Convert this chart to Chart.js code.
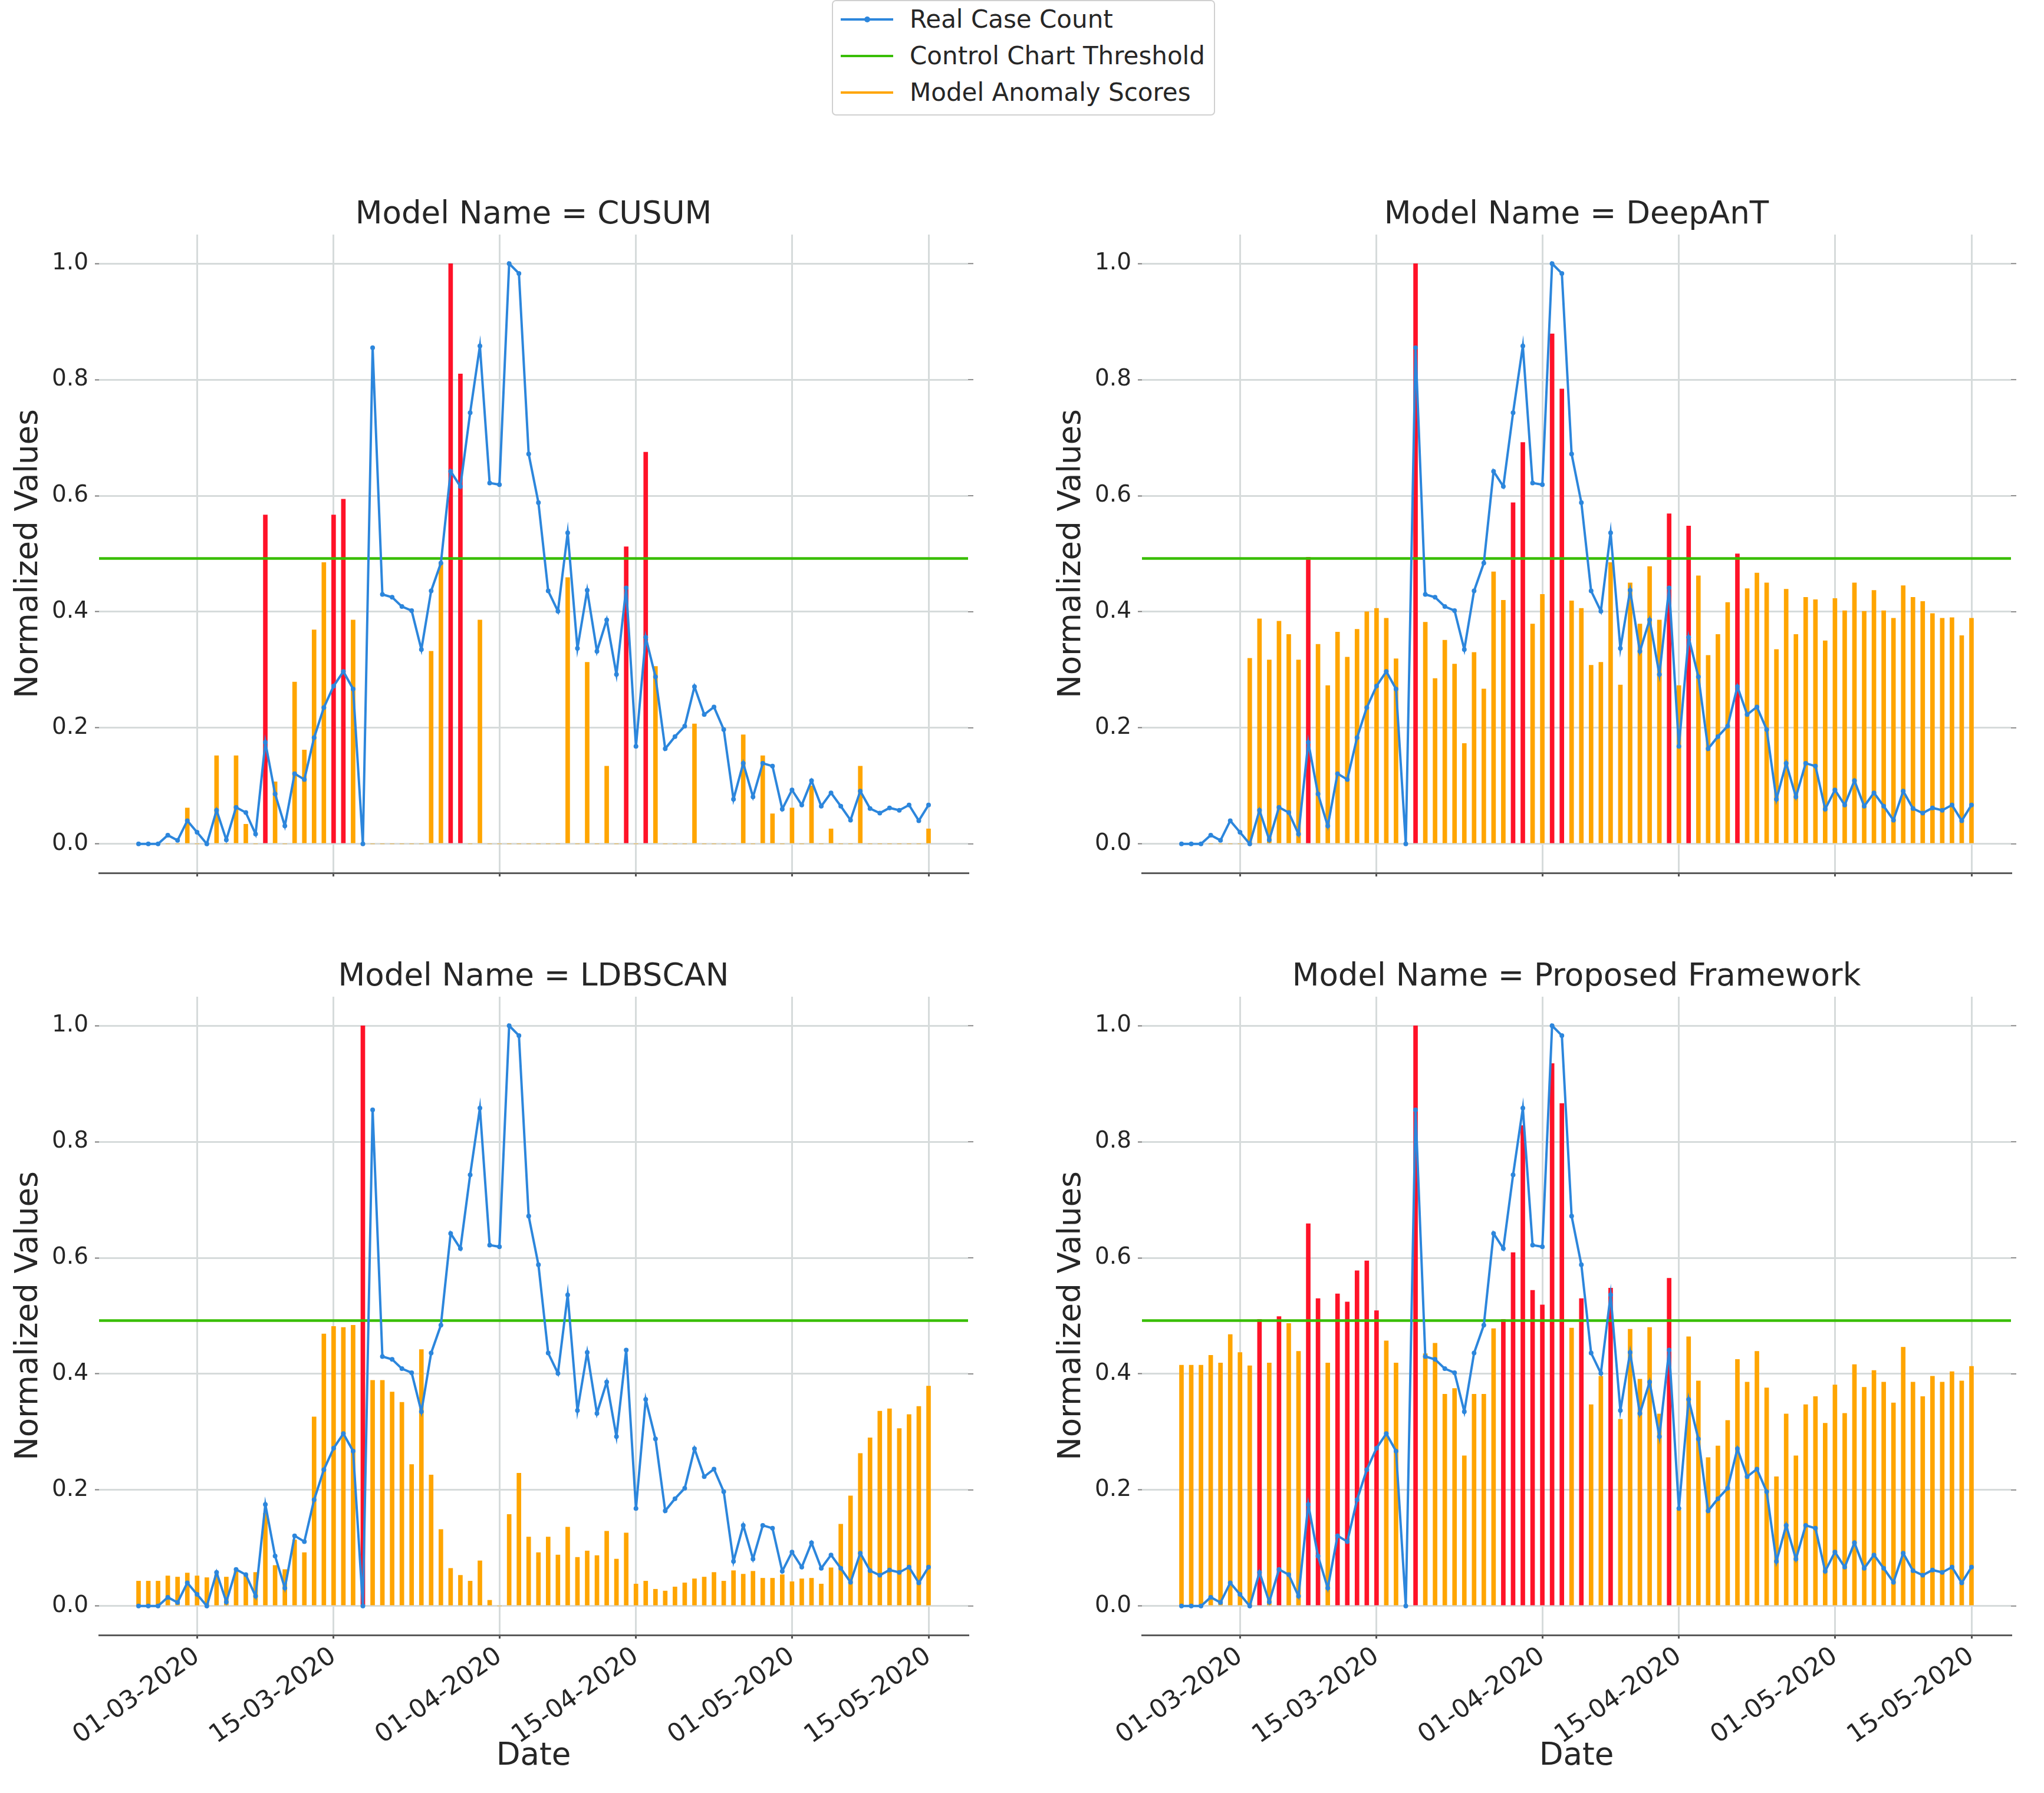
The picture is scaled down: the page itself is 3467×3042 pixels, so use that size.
<!DOCTYPE html>
<html>
<head>
<meta charset="utf-8">
<script src="https://cdn.jsdelivr.net/npm/chart.js@4.4.1/dist/chart.umd.min.js"></script>
<style>
  html, body { margin: 0; padding: 0; background: #fff; overflow: hidden; }
  body { width: 3467px; height: 3042px; position: relative; font-family: 'DejaVu Sans', sans-serif; }
  canvas { position: absolute; }
  #legend { position: absolute; left: 1411px; top: 0px; width: 650px; height: 196px; box-sizing: border-box;
            border: 2px solid #d0d0d0; border-radius: 7px; background: #fff; }
  .row { position: absolute; left: 0; width: 100%; height: 50px; }
  .swatch { position: absolute; left: 13px; top: 23px; width: 89px; height: 4px; }
  .dot { position: absolute; left: 40px; top: -3px; width: 10px; height: 10px; border-radius: 50%; }
  .label { position: absolute; left: 130px; top: 0; line-height: 50px; font-size: 42px; color: #262626; white-space: nowrap; }
</style>
</head>
<body>
<div id="legend"></div>
<script>
// 24-02-2020 .. 15-05-2020, one value per day
const dates = [];
for (let i = 0; i < 82; i++) {
  const d = new Date(Date.UTC(2020, 1, 24) + i * 86400000);
  const dd = String(d.getUTCDate()).padStart(2, '0');
  const mm = String(d.getUTCMonth() + 1).padStart(2, '0');
  dates.push(dd + '-' + mm + '-' + d.getUTCFullYear());
}

const tickLabels = ['01-03-2020', '15-03-2020', '01-04-2020', '15-04-2020', '01-05-2020', '15-05-2020'];
const yTickValues = [0, 0.2, 0.4, 0.6, 0.8, 1.0];
const threshold = 0.492;

const realCases = [
  0, 0, 0, 0.015, 0.006, 0.04, 0.02, 0, 0.058, 0.007,
  0.063, 0.054, 0.017, 0.175, 0.086, 0.031, 0.121, 0.111, 0.183, 0.235,
  0.272, 0.297, 0.267, 0, 0.855, 0.430, 0.425, 0.409, 0.402, 0.335,
  0.436, 0.484, 0.642, 0.616, 0.743, 0.858, 0.622, 0.619, 1.0, 0.983,
  0.672, 0.588, 0.436, 0.401, 0.536, 0.337, 0.437, 0.332, 0.386, 0.292,
  0.441, 0.168, 0.356, 0.288, 0.164, 0.185, 0.203, 0.271, 0.223, 0.236,
  0.197, 0.077, 0.139, 0.081, 0.139, 0.134, 0.060, 0.093, 0.067, 0.109,
  0.065, 0.088, 0.065, 0.041, 0.091, 0.061, 0.053, 0.062, 0.058, 0.067,
  0.040, 0.067
];

const cusumScores = [
  0, 0, 0, 0, 0, 0.062, 0, 0, 0.152, 0,
  0.152, 0.034, 0, 0.567, 0.107, 0, 0.279, 0.162, 0.369, 0.485,
  0.567, 0.594, 0.386, 0, 0, 0, 0, 0, 0, 0,
  0.332, 0.484, 1.0, 0.81, 0, 0.386, 0, 0, 0, 0,
  0, 0, 0, 0, 0.459, 0, 0.313, 0, 0.134, 0,
  0.512, 0, 0.675, 0.306, 0, 0, 0, 0.207, 0, 0,
  0, 0, 0.188, 0, 0.152, 0.052, 0, 0.062, 0, 0.10,
  0, 0.026, 0, 0, 0.134, 0, 0, 0, 0, 0,
  0, 0.026
];

const deepantScores = [
  0, 0, 0, 0, 0, 0, 0, 0.320, 0.388, 0.317,
  0.384, 0.361, 0.317, 0.494, 0.344, 0.273, 0.365, 0.322, 0.370, 0.400,
  0.406, 0.389, 0.319, 0, 1.0, 0.382, 0.285, 0.351, 0.310, 0.173,
  0.330, 0.267, 0.469, 0.420, 0.588, 0.692, 0.379, 0.430, 0.879, 0.784,
  0.419, 0.406, 0.308, 0.313, 0.485, 0.274, 0.450, 0.379, 0.478, 0.386,
  0.569, 0.273, 0.548, 0.462, 0.325, 0.361, 0.416, 0.500, 0.440, 0.467,
  0.450, 0.335, 0.439, 0.361, 0.425, 0.421, 0.350, 0.423, 0.402, 0.450,
  0.401, 0.437, 0.402, 0.389, 0.445, 0.425, 0.418, 0.397, 0.389, 0.390,
  0.359, 0.389
];

const ldbscanScores = [
  0.043, 0.043, 0.043, 0.052, 0.050, 0.057, 0.052, 0.049, 0.054, 0.050,
  0.060, 0.054, 0.058, 0.160, 0.070, 0.063, 0.114, 0.092, 0.326, 0.469,
  0.482, 0.480, 0.484, 1.0, 0.389, 0.389, 0.369, 0.351, 0.244, 0.442,
  0.226, 0.132, 0.065, 0.053, 0.043, 0.078, 0.010, 0, 0.158, 0.229,
  0.119, 0.092, 0.119, 0.088, 0.136, 0.084, 0.095, 0.087, 0.129, 0.081,
  0.126, 0.038, 0.043, 0.029, 0.026, 0.033, 0.040, 0.047, 0.050, 0.058,
  0.043, 0.061, 0.055, 0.060, 0.048, 0.048, 0.054, 0.042, 0.047, 0.048,
  0.038, 0.066, 0.141, 0.190, 0.263, 0.290, 0.336, 0.340, 0.306, 0.330,
  0.344, 0.379
];

const proposedScores = [
  0.415, 0.415, 0.415, 0.432, 0.419, 0.468, 0.437, 0.414, 0.494, 0.419,
  0.499, 0.487, 0.439, 0.659, 0.530, 0.419, 0.538, 0.524, 0.578, 0.595,
  0.509, 0.457, 0.419, 0, 1.0, 0.435, 0.453, 0.365, 0.375, 0.259,
  0.365, 0.365, 0.478, 0.494, 0.609, 0.828, 0.544, 0.519, 0.935, 0.866,
  0.479, 0.530, 0.347, 0.396, 0.548, 0.322, 0.477, 0.391, 0.480, 0.331,
  0.565, 0.165, 0.464, 0.388, 0.256, 0.276, 0.320, 0.425, 0.386, 0.439,
  0.376, 0.223, 0.331, 0.259, 0.347, 0.361, 0.315, 0.381, 0.332, 0.416,
  0.377, 0.406, 0.386, 0.350, 0.446, 0.386, 0.361, 0.396, 0.386, 0.404,
  0.388, 0.413
];

const BLUE = '#2c86dc';
const GREEN = '#38be00';
const ORANGE = '#ffa500';
const RED = '#ff1228';
const GRID = '#d6dbdb';
const TEXT = '#262626';
const FONT = "'DejaVu Sans', sans-serif";

const tickPos = tickLabels.map(l => dates.indexOf(l));

// petits traits de graduation sur le bord droit
const rightTicks = {
  id: 'rightTicks',
  afterDraw(chart) {
    const y = chart.scales.y;
    const ctx = chart.ctx;
    ctx.save();
    ctx.strokeStyle = '#8c8c8c';
    ctx.lineWidth = 2;
    y.ticks.forEach(t => {
      const py = y.getPixelForValue(t.value);
      ctx.beginPath();
      ctx.moveTo(chart.chartArea.right, py);
      ctx.lineTo(chart.chartArea.right + 9, py);
      ctx.stroke();
    });
    ctx.restore();
  }
};

function makePanel(p) {
  const canvas = document.createElement('canvas');
  canvas.width = p.width;
  canvas.height = p.height;
  canvas.style.left = p.left + 'px';
  canvas.style.top = p.top + 'px';
  canvas.style.width = p.width + 'px';
  canvas.style.height = p.height + 'px';
  document.body.appendChild(canvas);

  const n = realCases.length;
  const xMin = -0.05 * (n - 1);
  const xMax = 1.05 * (n - 1);

  new Chart(canvas.getContext('2d'), {
    type: 'line',
    data: {
      datasets: [
        {
          type: 'line',
          label: 'Real Case Count',
          data: realCases.map((v, i) => ({ x: i, y: v })),
          borderColor: BLUE,
          backgroundColor: BLUE,
          borderWidth: 4,
          pointRadius: 4,
          pointBorderWidth: 0,
          pointBackgroundColor: BLUE,
          tension: 0,
          order: 0
        },
        {
          type: 'line',
          label: 'Control Chart Threshold',
          data: [{ x: xMin, y: threshold }, { x: xMax, y: threshold }],
          borderColor: GREEN,
          borderWidth: 4.5,
          pointRadius: 0,
          order: 1
        },
        {
          type: 'bar',
          label: 'Model Anomaly Scores',
          data: p.scores.map((v, i) => ({ x: i, y: v })),
          backgroundColor: p.scores.map(v => v >= threshold ? RED : ORANGE),
          borderWidth: 0,
          barThickness: 7,
          order: 2
        }
      ]
    },
    options: {
      responsive: false,
      animation: false,
      devicePixelRatio: 1,
      layout: { padding: { left: 0, right: p.width - 1642, top: 0, bottom: 0 } },
      plugins: {
        legend: { display: false },
        tooltip: { enabled: false },
        title: {
          display: true,
          fullSize: false,
          text: 'Model Name = ' + p.title,
          color: TEXT,
          font: { family: FONT, size: 53, weight: 'normal' },
          padding: { top: p.titleTop, bottom: p.areaTop - p.titleTop - 63.6 }
        }
      },
      scales: {
        x: {
          type: 'linear',
          min: xMin,
          max: xMax,
          bounds: 'data',
          offset: false,
          grid: { color: GRID, lineWidth: 3, offset: false, drawTicks: true, tickLength: 6, tickColor: '#555', tickWidth: 3 },
          border: { display: true, color: '#5a5a5a', width: 3 },
          ticks: {
            display: p.bottomRow,
            autoSkip: false,
            minRotation: 35,
            maxRotation: 35,
            padding: 5,
            color: TEXT,
            font: { family: FONT, size: 43 },
            callback: (v, i) => tickLabels[i]
          },
          title: {
            display: p.bottomRow,
            text: 'Date',
            color: TEXT,
            font: { family: FONT, size: 53 },
            padding: { top: 0, bottom: 30 }
          },
          afterBuildTicks: s => { s.ticks = tickPos.map(v => ({ value: v })); },
          afterFit: s => { s.height = p.height - (p.areaTop + 1083); }
        },
        y: {
          min: -0.05,
          max: 1.05,
          bounds: 'data',
          grid: { color: GRID, lineWidth: 3, drawTicks: true, tickLength: 7, tickColor: '#7a7a7a', tickWidth: 2 },
          border: { display: false },
          ticks: {
            padding: 11,
            color: TEXT,
            font: { family: FONT, size: 39 },
            callback: v => v.toFixed(1)
          },
          title: {
            display: true,
            text: 'Normalized Values',
            color: TEXT,
            font: { family: FONT, size: 53 },
            padding: { top: 17, bottom: 0 }
          },
          afterBuildTicks: s => { s.ticks = yTickValues.map(v => ({ value: v })); },
          afterFit: s => { s.width = 168; }
        }
      }
    },
    plugins: [rightTicks]
  });
}

const panels = [
  { title: 'CUSUM', scores: cusumScores, left: 0, top: 300, width: 1733, height: 1260, titleTop: 33.2, areaTop: 98, bottomRow: false },
  { title: 'DeepAnT', scores: deepantScores, left: 1769, top: 300, width: 1698, height: 1260, titleTop: 33.2, areaTop: 98, bottomRow: false },
  { title: 'LDBSCAN', scores: ldbscanScores, left: 0, top: 1590, width: 1733, height: 1452, titleTop: 36.2, areaTop: 101, bottomRow: true },
  { title: 'Proposed Framework', scores: proposedScores, left: 1769, top: 1590, width: 1698, height: 1452, titleTop: 36.2, areaTop: 101, bottomRow: true }
];
panels.forEach(makePanel);

// légende commune
const legendItems = [
  { label: 'Real Case Count', color: BLUE, dot: true },
  { label: 'Control Chart Threshold', color: GREEN, dot: false },
  { label: 'Model Anomaly Scores', color: ORANGE, dot: false }
];
const legend = document.getElementById('legend');
legendItems.forEach((item, i) => {
  const row = document.createElement('div');
  row.className = 'row';
  row.style.top = (6 + i * 62) + 'px';
  const sw = document.createElement('div');
  sw.className = 'swatch';
  sw.style.background = item.color;
  if (item.dot) {
    const dot = document.createElement('div');
    dot.className = 'dot';
    dot.style.background = item.color;
    sw.appendChild(dot);
  }
  const lab = document.createElement('div');
  lab.className = 'label';
  lab.textContent = item.label;
  row.appendChild(sw);
  row.appendChild(lab);
  legend.appendChild(row);
});
</script>
</body>
</html>
